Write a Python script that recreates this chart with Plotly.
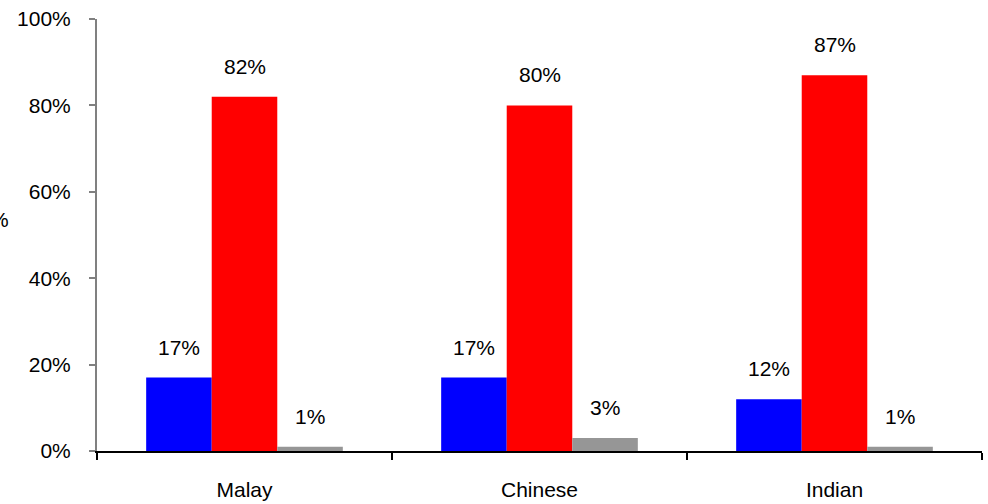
import plotly.graph_objects as go

categories = ["Malay", "Chinese", "Indian"]
series_names = ["Series 1", "Series 2", "Series 3"]
series_values = [
    [0.17, 0.17, 0.12],
    [0.82, 0.80, 0.87],
    [0.01, 0.03, 0.01],
]
series_colors = ["#0000FF", "#FF0000", "#969696"]
y_ticks = [0, 0.2, 0.4, 0.6, 0.8, 1.0]
y_ticklabels = ["0%", "20%", "40%", "60%", "80%", "100%"]

FONT = "Liberation Sans, Arial, sans-serif"
FS = 21
bargap = 1 / 3

fig = go.Figure()
for name, vals, col in zip(series_names, series_values, series_colors):
    fig.add_trace(go.Bar(x=categories, y=vals, name=name, marker_color=col,
                         marker_line_width=0, showlegend=False))

nser = len(series_values)
bw = (1 - bargap) / nser
annotations = []
for j, vals in enumerate(series_values):
    off = (j - (nser - 1) / 2) * bw
    for i, v in enumerate(vals):
        annotations.append(dict(x=i + off, y=v, xref="x", yref="y",
                                text=f"{round(v*100)}%", showarrow=False,
                                yanchor="bottom", yshift=17,
                                font=dict(family=FONT, size=FS, color="black")))
annotations.append(dict(x=-0.097, y=0.535, xref="paper", yref="paper",
                        text="%", showarrow=False, xanchor="right",
                        font=dict(family=FONT, size=FS, color="black")))

fig.update_layout(
    width=988, height=504,
    margin=dict(l=97, r=6, t=19, b=53, autoexpand=False),
    paper_bgcolor="white", plot_bgcolor="white",
    barmode="group", bargap=bargap, bargroupgap=0,
    font=dict(family=FONT, size=FS, color="black"),
    annotations=annotations,
    xaxis=dict(type="category", range=[-0.5, 2.5], tickson="boundaries",
               ticks="outside", ticklen=7, tickcolor="black", tickwidth=1.5,
               showline=True, linecolor="black", linewidth=1.5,
               showgrid=False, ticklabelstandoff=19, automargin=False,
               tickfont=dict(family=FONT, size=FS, color="black")),
    yaxis=dict(range=[0, 1], tickvals=y_ticks, ticktext=y_ticklabels,
               ticks="outside", ticklen=6, tickcolor="#808080", tickwidth=1.5,
               showline=True, linecolor="#808080", linewidth=2,
               showgrid=False, zeroline=False, ticklabelstandoff=14,
               automargin=False,
               tickfont=dict(family=FONT, size=FS, color="black")),
)

fig.write_html("out.html", config={"displayModeBar": False},
               post_script="document.body.style.margin='0';document.body.style.overflow='hidden';")
